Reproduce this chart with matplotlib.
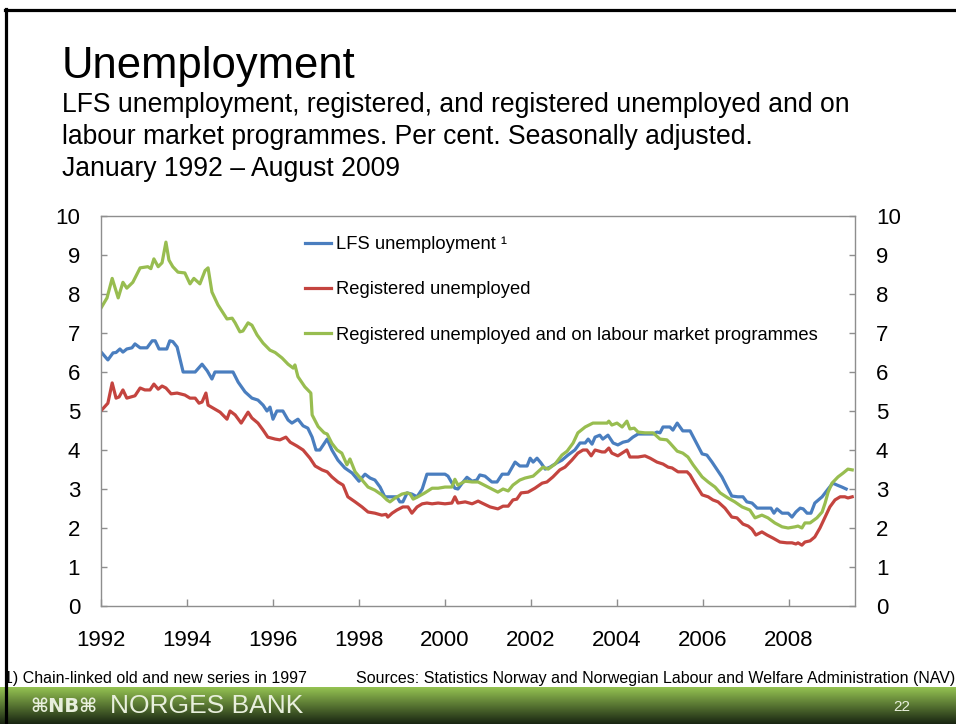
import numpy as np
import matplotlib
matplotlib.use('Agg')
import matplotlib.pyplot as plt
from matplotlib.lines import Line2D

#**************************************************************************
# Data (decimal years, per cent)
#**************************************************************************
lfs_years = [1992.02, 1992.16, 1992.28, 1992.35, 1992.44, 1992.51, 1992.60, 1992.72, 1992.79, 1992.91,
             1993.07, 1993.19, 1993.26, 1993.35, 1993.53, 1993.60, 1993.67, 1993.77, 1993.91,
             1994.07, 1994.19, 1994.35, 1994.47, 1994.58, 1994.65, 1994.81, 1994.95,
             1995.07, 1995.19, 1995.35, 1995.51, 1995.65, 1995.77, 1995.86, 1995.93,
             1996.00, 1996.09, 1996.23, 1996.35, 1996.44, 1996.58, 1996.70, 1996.81, 1996.91,
             1997.00, 1997.09, 1997.26, 1997.37, 1997.51, 1997.67, 1997.84,
             1998.00, 1998.14, 1998.26, 1998.37, 1998.49, 1998.60, 1998.77, 1998.88, 1998.95,
             1999.02, 1999.12, 1999.23, 1999.35, 1999.47, 1999.58, 1999.70,
             2000.00, 2000.07, 2000.23, 2000.30, 2000.40, 2000.51, 2000.63, 2000.74, 2000.81, 2000.93,
             2001.09, 2001.21, 2001.33, 2001.47, 2001.63, 2001.74, 2001.91, 2001.98,
             2002.05, 2002.14, 2002.23, 2002.33, 2002.44, 2002.60, 2002.72, 2002.86,
             2003.02, 2003.14, 2003.26, 2003.33, 2003.42, 2003.49, 2003.60, 2003.67, 2003.79, 2003.91,
             2004.02, 2004.14, 2004.26, 2004.37, 2004.49, 2004.72, 2004.84, 2004.93,
             2005.00, 2005.07, 2005.23, 2005.30, 2005.40, 2005.53, 2005.70, 2005.81, 2005.98,
             2006.09, 2006.21, 2006.33, 2006.44, 2006.56, 2006.67, 2006.81, 2006.93,
             2007.02, 2007.14, 2007.26, 2007.44, 2007.58, 2007.65, 2007.72, 2007.84, 2007.98,
             2008.07, 2008.16, 2008.26, 2008.33, 2008.42, 2008.51, 2008.60, 2008.77, 2008.91,
             2009.02, 2009.12, 2009.23, 2009.33]
lfs_values = [6.49, 6.31, 6.49, 6.50, 6.59, 6.51, 6.59, 6.62, 6.72, 6.62,
              6.62, 6.80, 6.80, 6.59, 6.59, 6.80, 6.78, 6.64, 6.00,
              6.00, 6.00, 6.20, 6.03, 5.82, 6.00, 6.00, 6.00,
              6.00, 5.74, 5.49, 5.33, 5.28, 5.15, 5.00, 5.10,
              4.79, 5.00, 5.00, 4.77, 4.69, 4.79, 4.62, 4.56, 4.33,
              4.00, 4.00, 4.28, 4.00, 3.74, 3.54, 3.41,
              3.20, 3.38, 3.28, 3.23, 3.05, 2.80, 2.80, 2.80, 2.67,
              2.67, 2.90, 2.87, 2.80, 3.00, 3.38, 3.38,
              3.38, 3.33, 3.02, 3.00, 3.15, 3.30, 3.20, 3.23, 3.36, 3.33,
              3.18, 3.18, 3.38, 3.38, 3.69, 3.59, 3.59, 3.79,
              3.69, 3.79, 3.67, 3.51, 3.56, 3.67, 3.74, 3.87,
              4.00, 4.18, 4.18, 4.28, 4.15, 4.33, 4.38, 4.28, 4.38, 4.18,
              4.13, 4.20, 4.23, 4.33, 4.41, 4.41, 4.41, 4.46,
              4.44, 4.59, 4.59, 4.51, 4.69, 4.49, 4.49, 4.26, 3.90,
              3.87, 3.69, 3.49, 3.31, 3.05, 2.82, 2.80, 2.80,
              2.67, 2.64, 2.51, 2.51, 2.51, 2.38, 2.49, 2.38, 2.38,
              2.28, 2.41, 2.51, 2.49, 2.38, 2.38, 2.64, 2.80, 3.00,
              3.15, 3.10, 3.05, 3.00]

reg_years = [1992.02, 1992.16, 1992.26, 1992.35, 1992.42, 1992.51, 1992.60, 1992.79, 1992.91,
             1993.02, 1993.14, 1993.23, 1993.33, 1993.42, 1993.51, 1993.63, 1993.77, 1993.95,
             1994.07, 1994.19, 1994.28, 1994.35, 1994.44, 1994.49, 1994.60, 1994.77, 1994.93,
             1995.00, 1995.12, 1995.26, 1995.42, 1995.51, 1995.65, 1995.77, 1995.88,
             1996.05, 1996.16, 1996.30, 1996.40, 1996.56, 1996.70, 1996.86, 1996.98,
             1997.14, 1997.26, 1997.37, 1997.51, 1997.63, 1997.74, 1997.91,
             1998.07, 1998.21, 1998.37, 1998.53, 1998.63, 1998.67, 1998.77, 1998.88,
             1999.02, 1999.14, 1999.23, 1999.35, 1999.47, 1999.58, 1999.70, 1999.84,
             2000.00, 2000.16, 2000.23, 2000.30, 2000.47, 2000.63, 2000.77, 2000.86,
             2001.05, 2001.23, 2001.35, 2001.47, 2001.58, 2001.67, 2001.77, 2001.93,
             2002.09, 2002.26, 2002.37, 2002.51, 2002.67, 2002.79, 2002.95,
             2003.09, 2003.21, 2003.30, 2003.40, 2003.49, 2003.65, 2003.72, 2003.81, 2003.88,
             2004.02, 2004.12, 2004.23, 2004.30, 2004.49, 2004.65, 2004.77, 2004.93,
             2005.07, 2005.19, 2005.28, 2005.42, 2005.63, 2005.70, 2005.81, 2005.98,
             2006.12, 2006.23, 2006.35, 2006.51, 2006.67, 2006.79, 2006.93,
             2007.05, 2007.14, 2007.23, 2007.37, 2007.49, 2007.63, 2007.79, 2007.95,
             2008.07, 2008.16, 2008.21, 2008.30, 2008.37, 2008.49, 2008.60, 2008.72, 2008.84, 2008.95,
             2009.07, 2009.19, 2009.30, 2009.37, 2009.47]
reg_values = [5.03, 5.20, 5.72, 5.33, 5.36, 5.54, 5.33, 5.39, 5.59,
              5.54, 5.54, 5.69, 5.56, 5.64, 5.59, 5.44, 5.46, 5.41,
              5.33, 5.33, 5.20, 5.23, 5.46, 5.15, 5.08, 4.97, 4.79,
              5.00, 4.90, 4.69, 4.97, 4.82, 4.69, 4.51, 4.33,
              4.28, 4.26, 4.33, 4.20, 4.10, 4.00, 3.79, 3.59,
              3.49, 3.44, 3.31, 3.18, 3.10, 2.80, 2.67,
              2.54, 2.41, 2.38, 2.33, 2.35, 2.28, 2.38, 2.46,
              2.54, 2.54, 2.38, 2.54, 2.62, 2.64, 2.62, 2.64,
              2.62, 2.64, 2.80, 2.64, 2.67, 2.62, 2.69, 2.64,
              2.54, 2.49, 2.56, 2.56, 2.72, 2.74, 2.90, 2.92,
              3.02, 3.15, 3.18, 3.31, 3.49, 3.56, 3.74,
              3.92, 4.00, 4.00, 3.85, 4.00, 3.95, 3.95, 4.05, 3.92,
              3.85, 3.92, 4.00, 3.82, 3.82, 3.85, 3.79, 3.69,
              3.64, 3.56, 3.54, 3.44, 3.44, 3.36, 3.15, 2.85,
              2.80, 2.72, 2.67, 2.51, 2.28, 2.26, 2.10,
              2.05, 1.97, 1.82, 1.90, 1.82, 1.74, 1.64, 1.62,
              1.62, 1.59, 1.62, 1.56, 1.64, 1.67, 1.77, 2.00, 2.28, 2.54,
              2.72, 2.80, 2.80, 2.77, 2.80]

prog_years = [1992.00, 1992.14, 1992.26, 1992.40, 1992.51, 1992.60, 1992.74, 1992.91,
              1993.09, 1993.16, 1993.23, 1993.33, 1993.42, 1993.51, 1993.58, 1993.67, 1993.79, 1993.95,
              1994.07, 1994.16, 1994.30, 1994.42, 1994.49, 1994.58, 1994.72, 1994.93,
              1995.05, 1995.12, 1995.23, 1995.30, 1995.42, 1995.51, 1995.63, 1995.77, 1995.93,
              1996.05, 1996.21, 1996.35, 1996.47, 1996.51, 1996.58, 1996.74, 1996.88, 1996.91,
              1997.05, 1997.19, 1997.26, 1997.37, 1997.49, 1997.60, 1997.72, 1997.79, 1997.91,
              1998.07, 1998.21, 1998.37, 1998.53, 1998.65, 1998.72, 1998.84,
              1999.00, 1999.12, 1999.19, 1999.26, 1999.37, 1999.53, 1999.70, 1999.84,
              2000.00, 2000.16, 2000.23, 2000.30, 2000.47, 2000.63, 2000.77, 2000.91,
              2001.05, 2001.23, 2001.35, 2001.47, 2001.58, 2001.74, 2001.86,
              2002.05, 2002.21, 2002.28, 2002.40, 2002.56, 2002.72, 2002.84, 2002.98,
              2003.09, 2003.26, 2003.44, 2003.60, 2003.77, 2003.81, 2003.88,
              2004.00, 2004.12, 2004.23, 2004.30, 2004.40, 2004.49, 2004.65, 2004.84,
              2005.00, 2005.16, 2005.23, 2005.40, 2005.53, 2005.65, 2005.77, 2005.98,
              2006.12, 2006.28, 2006.40, 2006.58, 2006.74, 2006.91,
              2007.09, 2007.21, 2007.37, 2007.51, 2007.67, 2007.84, 2007.98,
              2008.14, 2008.21, 2008.30, 2008.37, 2008.49, 2008.65, 2008.77, 2008.84, 2008.91,
              2009.00, 2009.14, 2009.26, 2009.37, 2009.47]
prog_values = [7.64, 7.90, 8.40, 7.90, 8.30, 8.15, 8.30, 8.67,
               8.70, 8.65, 8.90, 8.70, 8.80, 9.33, 8.87, 8.70, 8.56, 8.54,
               8.26, 8.40, 8.26, 8.60, 8.67, 8.05, 7.72, 7.36,
               7.38, 7.26, 7.03, 7.05, 7.26, 7.20, 6.95, 6.74, 6.56,
               6.50, 6.36, 6.20, 6.10, 6.18, 5.88, 5.62, 5.46, 4.90,
               4.60, 4.44, 4.41, 4.17, 4.00, 3.92, 3.62, 3.77, 3.44,
               3.23, 3.05, 2.97, 2.85, 2.72, 2.67, 2.77,
               2.87, 2.90, 2.87, 2.74, 2.80, 2.90, 3.02, 3.02,
               3.05, 3.05, 3.25, 3.10, 3.20, 3.18, 3.18, 3.10,
               3.02, 2.92, 3.00, 2.95, 3.10, 3.23, 3.28,
               3.33, 3.49, 3.56, 3.51, 3.64, 3.87, 3.97, 4.18,
               4.44, 4.59, 4.69, 4.69, 4.69, 4.74, 4.64,
               4.69, 4.59, 4.74, 4.54, 4.56, 4.46, 4.44, 4.44,
               4.28, 4.26, 4.18, 3.97, 3.92, 3.82, 3.62, 3.31,
               3.18, 3.05, 2.90, 2.77, 2.67, 2.54,
               2.46, 2.26, 2.33, 2.26, 2.13, 2.03, 2.00,
               2.03, 2.05, 2.00, 2.13, 2.13, 2.26, 2.41, 2.64, 2.92,
               3.15, 3.31, 3.41, 3.51, 3.49]

series_labels = ['LFS unemployment \u00b9',
                 'Registered unemployed',
                 'Registered unemployed and on labour market programmes']
year_ticks = [1992, 1994, 1996, 1998, 2000, 2002, 2004, 2006, 2008]
pct_ticks = [0, 1, 2, 3, 4, 5, 6, 7, 8, 9, 10]

title = 'Unemployment'
subtitle = ['LFS unemployment, registered, and registered unemployed and on',
            'labour market programmes. Per cent. Seasonally adjusted.',
            'January 1992 \u2013 August 2009']
footnote = '1) Chain-linked old and new series in 1997'
sources = 'Sources: Statistics Norway and Norwegian Labour and Welfare Administration (NAV)'
page_no = '22'

W, H = 956, 724


def fx(px):
    return px / W


def fy(py):
    return 1 - py / H


def main():
    plt.rcParams['font.family'] = ['Liberation Sans', 'DejaVu Sans']

    fig = plt.figure(figsize=(W / 100, H / 100), dpi=100)
    fig.patch.set_facecolor('white')

    #**********************************************************************
    # Chart area
    #**********************************************************************
    ax = fig.add_axes([fx(101), fy(606), fx(855) - fx(101), fy(216) - fy(606)])
    ax.plot(lfs_years, lfs_values, color='#4a7ebf', lw=2.3, label=series_labels[0])
    ax.plot(reg_years, reg_values, color='#c4443f', lw=2.3, label=series_labels[1])
    ax.plot(prog_years, prog_values, color='#98bd50', lw=2.3, label=series_labels[2])

    ax.set_xlim(1992.0, 2009.535)
    ax.set_ylim(0, 10)
    ax.set_xticks(year_ticks)
    ax.set_xticklabels([str(y) for y in year_ticks])
    ax.set_yticks(pct_ticks)
    for sp in ax.spines.values():
        sp.set_color('#8e8e8e')
        sp.set_linewidth(1.0)
    ax.tick_params(axis='x', direction='in', length=5, width=1, color='#8e8e8e',
                   labelsize=16, pad=17)
    ax.tick_params(axis='y', direction='in', length=4, width=1, color='#8e8e8e',
                   labelsize=16, pad=15, left=True, right=True,
                   labelleft=True, labelright=True)

    ax.legend(loc='upper left', bbox_to_anchor=(fx(305), fy(236)),
              bbox_transform=fig.transFigure, frameon=False, fontsize=13.2,
              handlelength=1.4, handletextpad=0.3, labelspacing=1.55,
              borderpad=0, borderaxespad=0)

    #**********************************************************************
    # Titles and notes
    #**********************************************************************
    fig.text(fx(62), fy(78), title, fontsize=31.4, va='baseline', ha='left')
    for i, line in enumerate(subtitle):
        fig.text(fx(62), fy(112 + 32 * i), line, fontsize=19.1, va='baseline', ha='left')
    fig.text(fx(4), fy(683), footnote, fontsize=11.5, va='baseline', ha='left')
    fig.text(fx(955), fy(683), sources, fontsize=11.5, va='baseline', ha='right')

    #**********************************************************************
    # Bottom band and slide frame
    #**********************************************************************
    band = fig.add_axes([0, 0, 1, fy(687)])
    band.set_axis_off()
    top = np.array([0.58, 0.76, 0.32])
    bottom = np.array([0.10, 0.15, 0.07])
    t = np.linspace(0, 1, 40)[:, None, None]
    grad = top * (1 - t) + bottom * t
    grad = np.repeat(grad, 2, axis=1)
    band.imshow(grad, aspect='auto', extent=[0, 1, 0, 1], interpolation='bilinear')
    band.set_xlim(0, 1)
    band.set_ylim(0, 1)
    band.text(fx(30), 0.48, '\u2318NB\u2318', fontsize=14, color='#e8efdc',
              va='center', ha='left', family='DejaVu Sans', fontweight='bold')
    band.text(fx(110), 0.48, 'NORGES BANK', fontsize=19, color='#e8efdc',
              va='center', ha='left')
    band.text(fx(910), 0.45, page_no, fontsize=11, color='#e8efdc',
              va='center', ha='right')

    fig.add_artist(Line2D([fx(5), 1], [fy(9.5), fy(9.5)], color='black', lw=2.3,
                          transform=fig.transFigure, zorder=10))
    fig.add_artist(Line2D([fx(5.5), fx(5.5)], [fy(9), 0], color='black', lw=2.3,
                          transform=fig.transFigure, zorder=10))

    fig.savefig('out.png', dpi=100, facecolor='white')


if __name__ == "__main__":
    main()
